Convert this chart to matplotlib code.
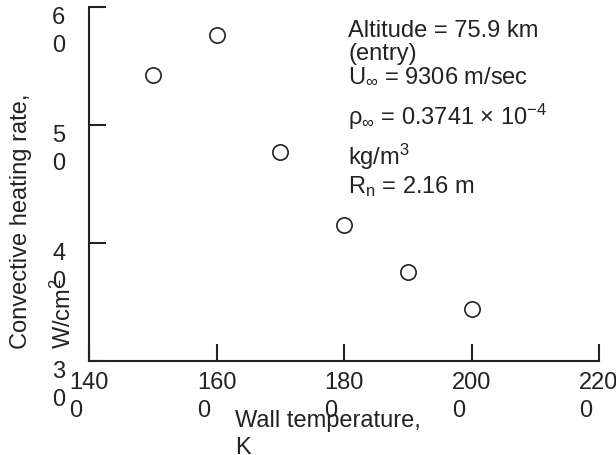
import matplotlib
matplotlib.use("Agg")
import matplotlib.pyplot as plt

# wall temperature (K) vs convective heating rate (W/cm^2)
wall_temp = [1500, 1600, 1700, 1800, 1900, 2000]
heating_rate = [54.2, 57.6, 47.7, 41.5, 37.5, 34.4]

xticks = [1400, 1600, 1800, 2000, 2200]
xtick_labels = ["140\n0", "160\n0", "180\n0", "200\n0", "220\n0"]
yticks = [30, 40, 50, 60]
ytick_labels = ["3\n0", "4\n0", "5\n0", "6\n0"]

INK = "#222222"
plt.rcParams["font.family"] = ["Liberation Sans", "DejaVu Sans"]
plt.rcParams["mathtext.fontset"] = "custom"
plt.rcParams["mathtext.rm"] = "Liberation Sans"
plt.rcParams["mathtext.it"] = "Liberation Sans:italic"
plt.rcParams["font.size"] = 17

fig = plt.figure(figsize=(6.16, 4.55), dpi=100)
ax = fig.add_axes([0.1445, 0.2066, 0.828, 0.779])

ax.plot(wall_temp, heating_rate, "o", ms=11, mfc="white", mec=INK, mew=1.2,
        clip_on=False)

ax.set_xlim(1400, 2200)
ax.set_ylim(30, 60)
ax.set_xticks(xticks)
ax.set_xticklabels(xtick_labels, va="top", ha="center", multialignment="left",
                   linespacing=1.34, color=INK)
ax.set_yticks(yticks)
ax.set_yticklabels(ytick_labels, va="top", ha="right", linespacing=1.38,
                   color=INK)
ax.tick_params(axis="both", direction="in", length=12, width=1.5, colors=INK)
ax.tick_params(axis="x", pad=8)
ax.tick_params(axis="y", pad=17)
for s in ("top", "right"):
    ax.spines[s].set_visible(False)
for s in ("left", "bottom"):
    ax.spines[s].set_linewidth(1.5)
    ax.spines[s].set_color(INK)

ax.set_xlabel("Wall temperature,\nK", color=INK)
ax.xaxis.label.set(ha="left", va="top", multialignment="left", linespacing=1.28)
ax.xaxis.set_label_coords(0.286, -0.138)

ax.set_ylabel("Convective heating rate,\nW/cm$^{\\mathregular{2}}$", color=INK)
ax.yaxis.label.set(ha="left", va="bottom", multialignment="left",
                   rotation_mode="default", linespacing=1.95)
ax.yaxis.set_label_coords(-0.155, 0.035)

tkw = dict(transform=ax.transAxes, color=INK, ha="left", va="baseline")
ax.text(0.508, 0.914, "Altitude = 75.9 km", **tkw)
ax.text(0.508, 0.849, "(entry)", **tkw)
ax.text(0.508, 0.784, r"U$_\infty$ = 9306 m/sec", **tkw)
ax.text(0.508, 0.666, r"ρ$_\infty$ = 0.3741 × 10$^{\mathregular{-4}}$", **tkw)
ax.text(0.508, 0.552, r"kg/m$^{\mathregular{3}}$", **tkw)
ax.text(0.508, 0.473, r"R$_{\mathregular{n}}$ = 2.16 m", **tkw)

fig.savefig("out.png", dpi=100)
